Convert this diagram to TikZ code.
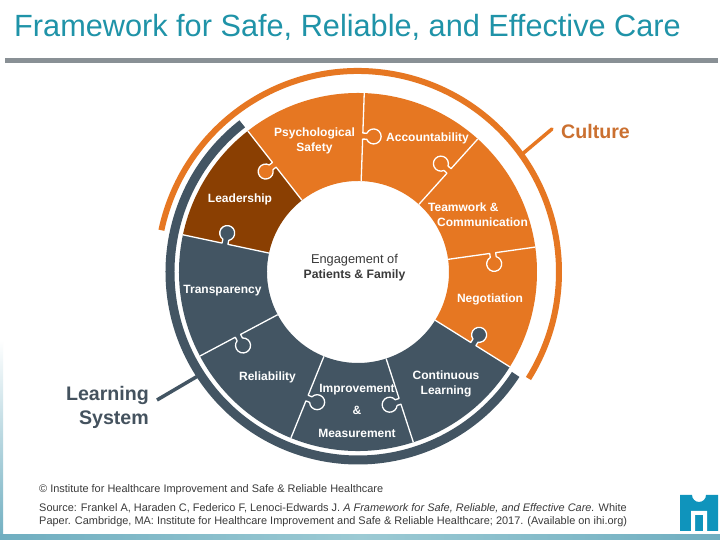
\documentclass[tikz,border=0pt]{standalone}
\usepackage{fontspec}
\setmainfont{Liberation Sans}
\definecolor{cOrange}{HTML}{E67722}
\definecolor{cBrown}{HTML}{8A3F02}
\definecolor{cSlate}{HTML}{435563}
\definecolor{cTitle}{HTML}{1F93A8}
\definecolor{cRule}{HTML}{899095}
\definecolor{cCult}{HTML}{CB7030}
\definecolor{cLearn}{HTML}{44525E}
\definecolor{cLogo}{HTML}{0F94BC}
\definecolor{cBand}{HTML}{6FAEC0}
\definecolor{cBandL}{HTML}{9CCAD4}
\definecolor{cSmall}{HTML}{3A3A3A}
\newcommand{\sector}[3]{\fill[#3] (#1:91) arc[start angle=#1,end angle=#2,radius=91] -- (#2:179) arc[start angle=#2,end angle=#1,radius=179] -- cycle;}
\newcommand{\seam}[3]{\begin{scope}[rotate=#1,yscale=#2]
\fill[#3] (133,-0.5) -- (133,4.03) arc[start angle=246.4,end angle=-66.4,radius=7.5] -- (139,-0.5) -- cycle;
\draw[seamline] (91,0) -- (133,0) -- (133,4.03) arc[start angle=246.4,end angle=-66.4,radius=7.5] -- (139,0) -- (179,0);
\end{scope}}
\tikzset{
 seamline/.style={draw=white,line width=1.3pt,line join=round},
 wlabel/.style={text=white,font=\bfseries\fontsize{12}{15}\selectfont,align=center,inner sep=0pt},
 clabel/.style={text=#1,font=\bfseries\fontsize{19.6}{24}\selectfont,inner sep=0pt},
 note/.style={text=cSmall,font=\fontsize{10.95}{14}\selectfont,anchor=west,inner sep=0pt},
}
\begin{document}
\begin{tikzpicture}[x=1pt,y=1pt]
\useasboundingbox (0,0) rectangle (720,540);
\fill[white] (0,0) rectangle (720,540);
\shade[top color=white,bottom color=cBand] (0,0) rectangle (3,200);
\shade[left color=cBand,right color=cBandL] (0,0) rectangle (360,5);
\shade[left color=cBandL,right color=cBand] (360,0) rectangle (720,5);
\node[text=cTitle,font=\fontsize{30.7}{36}\selectfont,anchor=west,inner sep=0pt] (title) at (14,513) {Framework for Safe, Reliable, and Effective Care};
\fill[cRule] (5,477) rectangle (718,482);
\begin{scope}[shift={(358,268)}]
\sector{128}{168}{cBrown}
\sector{8}{128}{cOrange}
\sector{-32}{8}{cOrange}
\sector{-192}{-32}{cSlate}
\seam{128}{1}{cOrange}
\seam{88}{-1}{cOrange}
\seam{48}{1}{cOrange}
\seam{8}{-1}{cOrange}
\seam{-32}{1}{cSlate}
\seam{-72}{-1}{cSlate}
\seam{-112}{1}{cSlate}
\seam{-152}{1}{cSlate}
\seam{168}{-1}{cSlate}
\draw[cSlate,line width=9pt] (128:188) arc[start angle=128,end angle=327,radius=188];
\draw[cOrange,line width=6pt] (168:201) arc[start angle=168,end angle=-32,radius=201];
\coordinate (cultA) at (35.7:203);
\coordinate (learnA) at (213:191);
\end{scope}
\coordinate (cultB) at (552,411);
\coordinate (learnB) at (157,140);
\draw[cOrange,line width=3.5pt,line cap=round] (cultA) -- (cultB);
\draw[cSlate,line width=3.5pt] (learnA) -- (learnB);
\node[clabel=cCult] (culture) at (595.5,408) {Culture};
\node[clabel=cLearn,align=right,anchor=east] (learning) at (149,133) {Learning\\System};
\node[wlabel] (psy) at (314.5,399) {Psychological\\Safety};
\node[wlabel] (acc) at (427.5,402) {Accountability};
\node[wlabel] (lead) at (240,341) {Leadership};
\node[wlabel,align=left,anchor=west] (team) at (428,325) {Teamwork \&\\\hspace*{9pt}Communication};
\node[wlabel] (neg) at (490,241) {Negotiation};
\node[wlabel] (trans) at (222.5,249) {Transparency};
\node[wlabel] (rel) at (267.5,163) {Reliability};
\node[wlabel] (cont) at (446,156) {Continuous\\Learning};
\node[wlabel,align=center,font=\bfseries\fontsize{12}{23}\selectfont] (imp) at (357,129) {Improvement\\[-1pt]\&\\Measurement};
\node[text=cSmall,align=center,font=\fontsize{12.8}{15}\selectfont,inner sep=0pt] (eng) at (354.5,272) {Engagement of\\{\fontsize{12.2}{15}\selectfont\textbf{Patients \& Family}}};
\node[note] (copy) at (39,50.5) {© Institute for Healthcare Improvement and Safe \& Reliable Healthcare};
\node[note] (src1) at (39,32) {Source: Frankel A, Haraden C, Federico F, Lenoci-Edwards J. \textit{A Framework for Safe, Reliable, and Effective Care.} White};
\node[note] (src2) at (39,18) {Paper. Cambridge, MA: Institute for Healthcare Improvement and Safe \& Reliable Healthcare; 2017. (Available on ihi.org)};
\fill[cLogo] (680,45) -- (692,45) arc[start angle=180,end angle=360,radius=7] -- (718,45) -- (718,9) -- (680,9) -- cycle;
\fill[white] (691,9) -- (691,29) -- (707,29) -- (707,9) -- (703,9) -- (703,25) -- (695,25) -- (695,9) -- cycle;
\end{tikzpicture}
\end{document}
